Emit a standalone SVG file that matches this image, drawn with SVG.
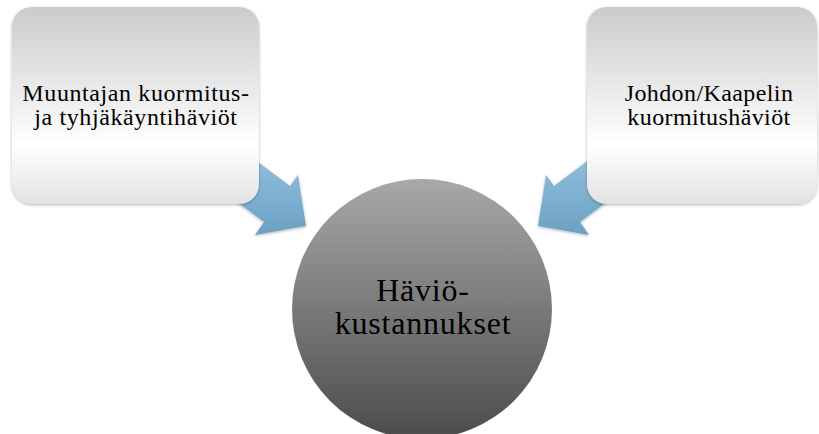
<svg xmlns="http://www.w3.org/2000/svg" width="819" height="434" viewBox="0 0 819 434">
  <style>
    .box { fill: url(#boxFill); filter: url(#soft); }
    .arrow { fill: url(#arrowFill); filter: url(#soft); }
  </style>
  <defs>
    <linearGradient id="boxFill" x1="0" y1="0" x2="0" y2="1">
      <stop offset="0" stop-color="#cbcbcb"/>
      <stop offset="0.7" stop-color="#ffffff"/>
      <stop offset="1" stop-color="#e2e2e2"/>
    </linearGradient>
    <linearGradient id="arrowFill" gradientUnits="userSpaceOnUse" x1="0" y1="165" x2="0" y2="236">
      <stop offset="0" stop-color="#8ebcd8"/>
      <stop offset="1" stop-color="#6aa0c4"/>
    </linearGradient>
    <linearGradient id="discFill" gradientUnits="userSpaceOnUse" x1="0" y1="179" x2="0" y2="439">
      <stop offset="0" stop-color="#a8a8a8"/>
      <stop offset="1" stop-color="#4b4b4b"/>
    </linearGradient>
    <filter id="soft" x="-10%" y="-10%" width="120%" height="120%">
      <feDropShadow dx="0" dy="1" stdDeviation="1.5" flood-color="#000" flood-opacity="0.3"/>
    </filter>
  </defs>

  <!-- converging arrows -->
  <g id="connectors">
    <polygon class="arrow" points="226,138 290,186 298,175 306,226 255,235 264,222 200,174"/>
    <polygon class="arrow" points="618,138 554,186 546,175 538,226 589,235 580,222 644,174"/>
  </g>

  <g id="node-muuntaja">
    <rect class="box" x="12" y="7" width="247" height="197" rx="20" ry="20"/>
    <text x="136" y="101" font-family="Liberation Serif" font-size="24" letter-spacing="0.6" text-anchor="middle" fill="#000">Muuntajan kuormitus-</text>
    <text x="136" y="125" font-family="Liberation Serif" font-size="24" letter-spacing="0.6" text-anchor="middle" fill="#000">ja tyhjäkäyntihäviöt</text>
  </g>

  <g id="node-johto">
    <rect class="box" x="587" y="7" width="230" height="197" rx="20" ry="20"/>
    <text x="709" y="101" font-family="Liberation Serif" font-size="24" letter-spacing="0.4" text-anchor="middle" fill="#000">Johdon/Kaapelin</text>
    <text x="709" y="125" font-family="Liberation Serif" font-size="24" letter-spacing="0.4" text-anchor="middle" fill="#000">kuormitushäviöt</text>
  </g>

  <g id="node-kustannukset">
    <circle cx="422" cy="309" r="130" fill="url(#discFill)"/>
    <text x="423" y="301" font-family="Liberation Serif" font-size="32" letter-spacing="0.8" text-anchor="middle" fill="#000">Häviö-</text>
    <text x="423" y="334" font-family="Liberation Serif" font-size="32" letter-spacing="0.8" text-anchor="middle" fill="#000">kustannukset</text>
  </g>
</svg>
